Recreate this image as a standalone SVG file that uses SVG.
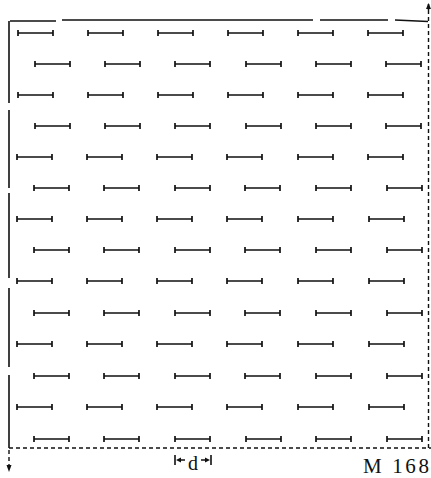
<svg xmlns="http://www.w3.org/2000/svg" xmlns:xlink="http://www.w3.org/1999/xlink" width="431" height="478" viewBox="0 0 431 478">
<style>
.b{fill:none;stroke:#111;stroke-width:1.6}
.dsh{fill:none;stroke:#111;stroke-width:1.4;stroke-dasharray:4,3}
.t{font-family:"Liberation Serif","DejaVu Serif",serif;fill:#111}
</style>
<defs>
<path id="s" d="M0,0 H35 M0,-3 V3 M35,-3 V3" fill="none" stroke="#111" stroke-width="1.7"/>
</defs>
<rect width="431" height="478" fill="#fff"/>
<g id="frame">
<path class="b" d="M10,21 H56 M62,20 H313 M320,20 H388 M395,20 L428,21.5"/>
<path class="b" d="M9,21 V103 M9,110 V188 M9,193 V278 M9,288 V367 M9,375 V448"/>
<path class="dsh" d="M9,448 H431"/>
<path class="dsh" d="M428.5,10 V448"/>
<path class="b" d="M428.5,10 V4"/>
<path d="M426,9 L428.5,3 L431,9 Z" fill="#111"/>
<path class="dsh" d="M9,450 V466"/>
<path d="M6.5,465 L9,472 L11.5,465 Z" fill="#111"/>
</g>
<g id="segments">
<use href="#s" x="18" y="33"/><use href="#s" x="88" y="33"/><use href="#s" x="158" y="33"/><use href="#s" x="228" y="33"/><use href="#s" x="298" y="33"/><use href="#s" x="368" y="33"/>
<use href="#s" x="35" y="64"/><use href="#s" x="105" y="64"/><use href="#s" x="175" y="64"/><use href="#s" x="246" y="64"/><use href="#s" x="316" y="64"/><use href="#s" x="386" y="64"/>
<use href="#s" x="18" y="95"/><use href="#s" x="88" y="95"/><use href="#s" x="158" y="95"/><use href="#s" x="228" y="95"/><use href="#s" x="298" y="95"/><use href="#s" x="368" y="95"/>
<use href="#s" x="35" y="126"/><use href="#s" x="105" y="126"/><use href="#s" x="175" y="126"/><use href="#s" x="246" y="126"/><use href="#s" x="316" y="126"/><use href="#s" x="386" y="126"/>
<use href="#s" x="17" y="157"/><use href="#s" x="87" y="157"/><use href="#s" x="157" y="157"/><use href="#s" x="227" y="157"/><use href="#s" x="298" y="157"/><use href="#s" x="368" y="157"/>
<use href="#s" x="34" y="188"/><use href="#s" x="104" y="188"/><use href="#s" x="175" y="188"/><use href="#s" x="245" y="188"/><use href="#s" x="316" y="188"/><use href="#s" x="387" y="188"/>
<use href="#s" x="17" y="219"/><use href="#s" x="87" y="219"/><use href="#s" x="157" y="219"/><use href="#s" x="227" y="219"/><use href="#s" x="298" y="219"/><use href="#s" x="369" y="219"/>
<use href="#s" x="34" y="250"/><use href="#s" x="104" y="250"/><use href="#s" x="175" y="250"/><use href="#s" x="245" y="250"/><use href="#s" x="316" y="250"/><use href="#s" x="387" y="250"/>
<use href="#s" x="17" y="281"/><use href="#s" x="87" y="281"/><use href="#s" x="157" y="281"/><use href="#s" x="227" y="281"/><use href="#s" x="298" y="281"/><use href="#s" x="369" y="281"/>
<use href="#s" x="34" y="313"/><use href="#s" x="104" y="313"/><use href="#s" x="175" y="313"/><use href="#s" x="245" y="313"/><use href="#s" x="316" y="313"/><use href="#s" x="387" y="313"/>
<use href="#s" x="17" y="344"/><use href="#s" x="87" y="344"/><use href="#s" x="157" y="344"/><use href="#s" x="227" y="344"/><use href="#s" x="298" y="344"/><use href="#s" x="369" y="344"/>
<use href="#s" x="34" y="376"/><use href="#s" x="104" y="376"/><use href="#s" x="175" y="376"/><use href="#s" x="245" y="376"/><use href="#s" x="316" y="376"/><use href="#s" x="387" y="376"/>
<use href="#s" x="17" y="407"/><use href="#s" x="87" y="407"/><use href="#s" x="157" y="407"/><use href="#s" x="227" y="407"/><use href="#s" x="298" y="407"/><use href="#s" x="369" y="407"/>
<use href="#s" x="34" y="439"/><use href="#s" x="104" y="439"/><use href="#s" x="175" y="439"/><use href="#s" x="246" y="439"/><use href="#s" x="316" y="439"/><use href="#s" x="387" y="439"/>
</g>
<g id="dim-d">
<path class="b" d="M175,455 V465 M211,455 V465"/>
<path d="M176,460 L181,457.5 L181,462.5 Z M210,460 L205,457.5 L205,462.5 Z" fill="#111"/>
<path class="b" d="M181,460 H185 M201,460 H205"/>
<text class="t" x="193" y="470" font-size="20" text-anchor="middle">d</text>
</g>
<text class="t" x="363" y="473" font-size="21" textLength="66" lengthAdjust="spacing">M 168</text>
</svg>
